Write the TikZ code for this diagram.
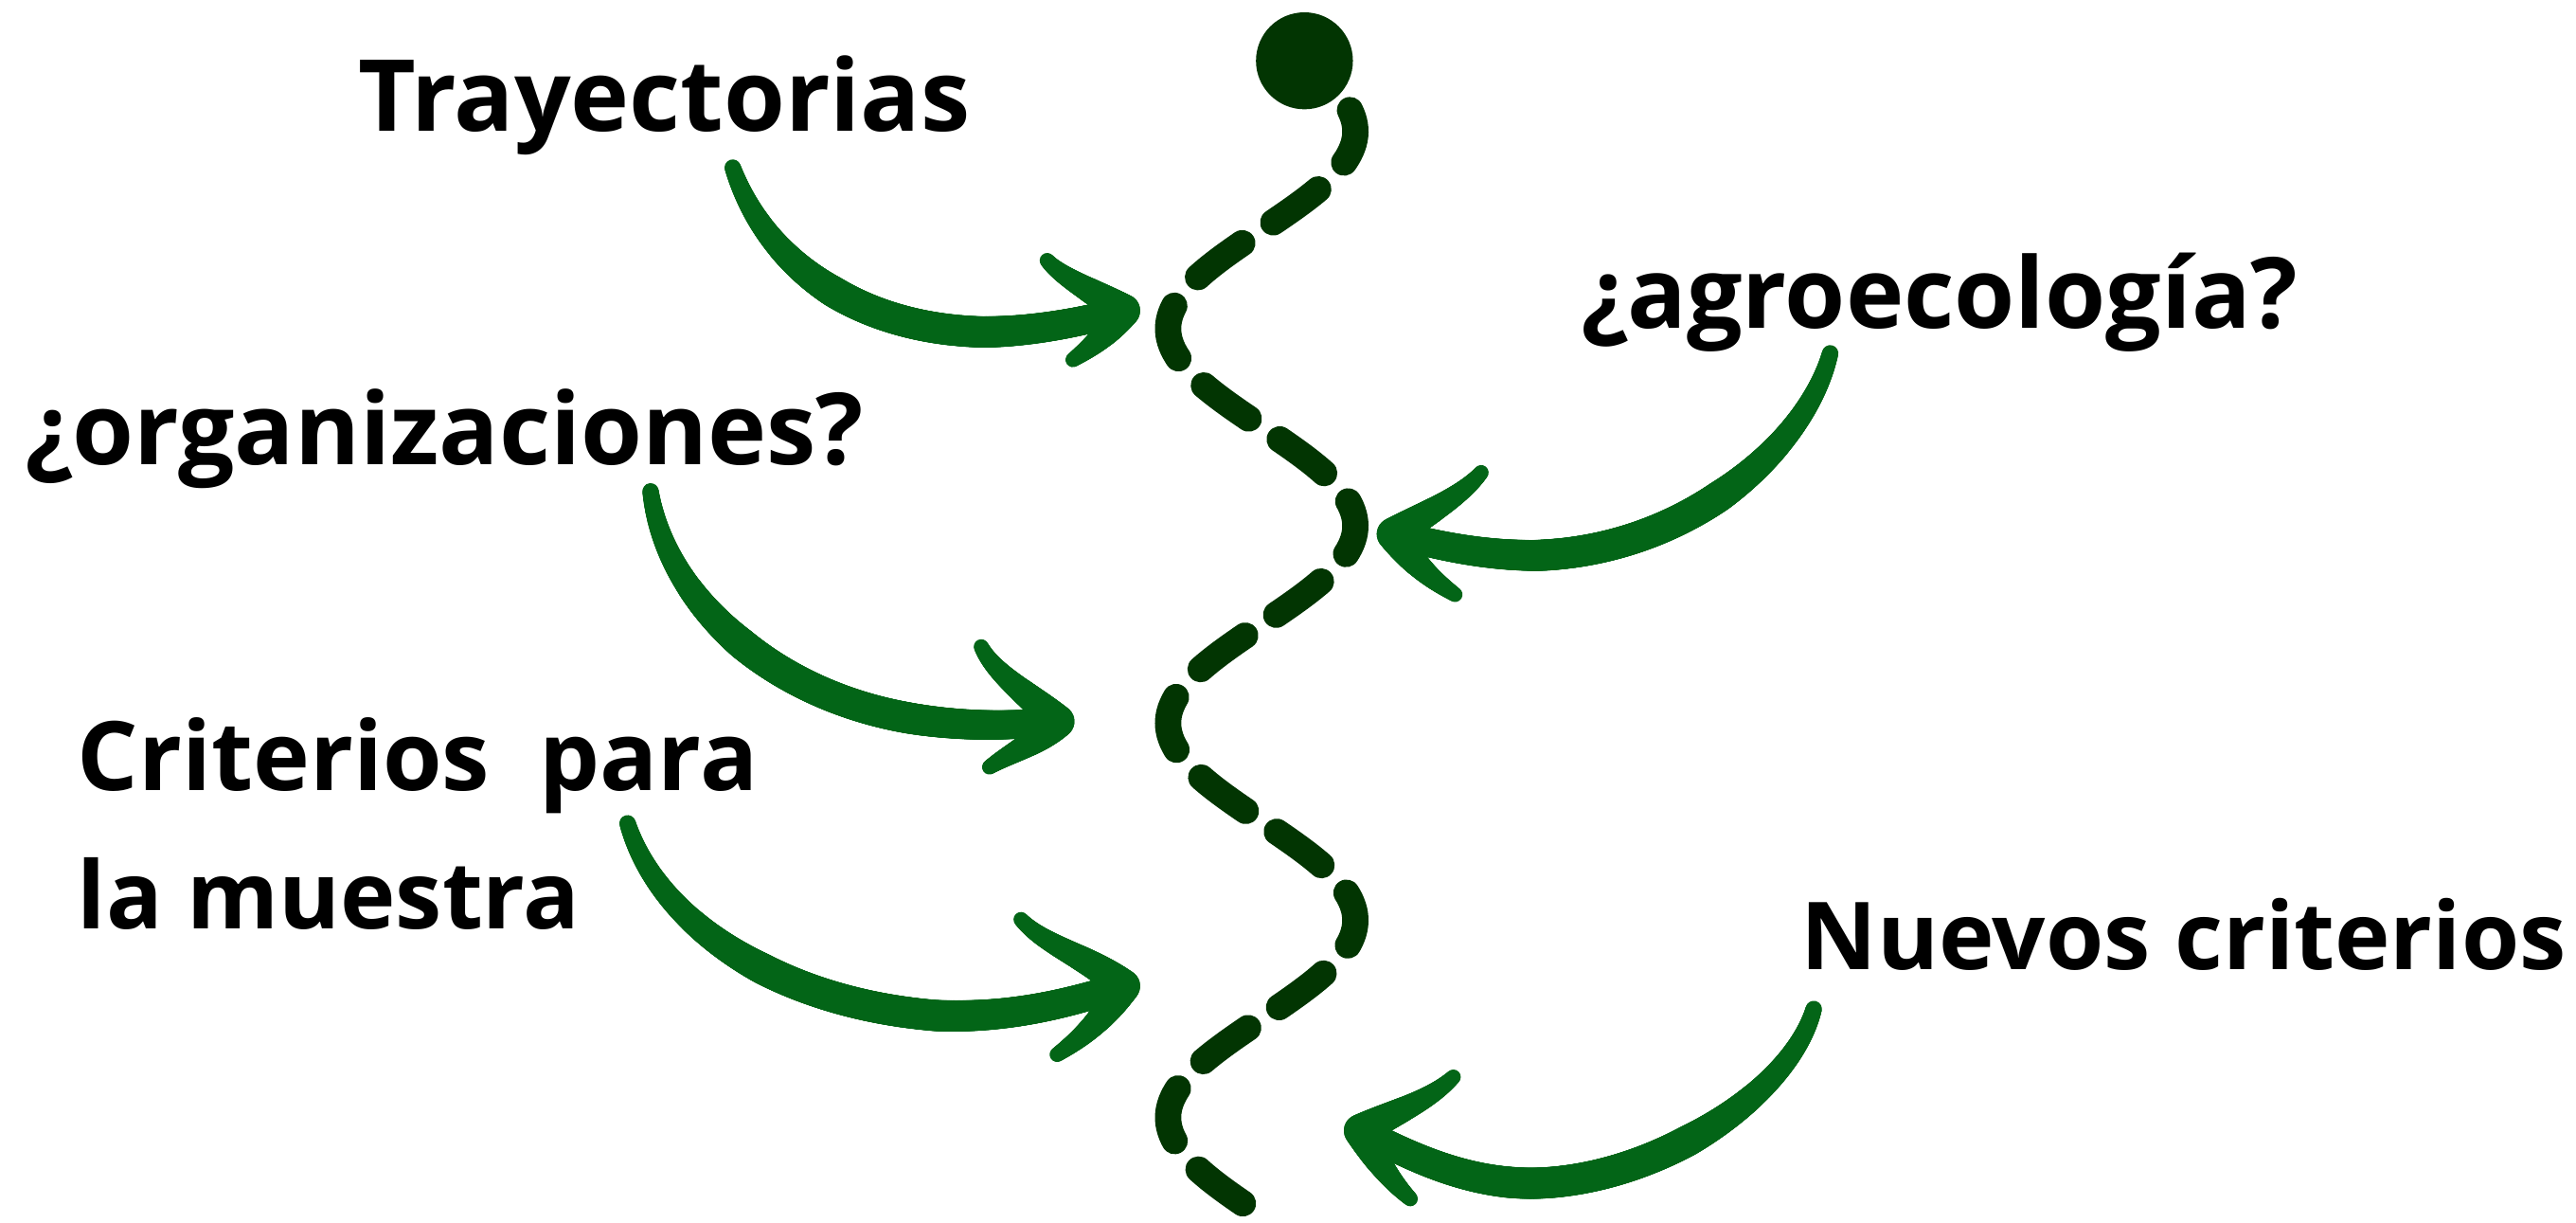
\documentclass[tikz,border=0pt]{standalone}
\usepackage{fontspec}
\setmainfont{Open Sans}
\usetikzlibrary{decorations.markings}
\definecolor{arrowgreen}{RGB}{3,101,23}
\definecolor{trailgreen}{RGB}{2,53,2}
\tikzset{
  label/.style={inner sep=0pt, anchor=base west, font=\fontsize{#1}{70}\selectfont\bfseries, text=black},
  label/.default=58,
  trail/.style={draw=trailgreen, line width=16pt, line cap=round, dash pattern=on 34pt off 22.7pt},
  shaftbrush/.style={decoration={markings, mark=between positions 0 and 1 step 0.7pt with {
      \pgfmathsetmacro\pp{\pgfkeysvalueof{/pgf/decoration/mark info/distance from start}/\pgfdecoratedpathlength}
      \pgfmathsetmacro\rr{0.5*(10+9*min(1,\pp/0.35)-2*max(0,(\pp-0.7)/0.3))}
      \fill[arrowgreen] (0,0) circle[radius=\rr pt];}}, decorate},
  barbbrush/.style={decoration={markings, mark=between positions 0 and 1 step 0.7pt with {
      \pgfmathsetmacro\pp{\pgfkeysvalueof{/pgf/decoration/mark info/distance from start}/\pgfdecoratedpathlength}
      \pgfmathsetmacro\rr{0.5*(20-11*\pp)}
      \fill[arrowgreen] (0,0) circle[radius=\rr pt];}}, decorate},
}
\begin{document}
\begin{tikzpicture}[x=1pt,y=-1pt]
\useasboundingbox (0,0) rectangle (1568,744);
% labels
\node[label=60.5] (tray) at (218,80) {Trayectorias};
\node[label=59.8] (agro) at (962,200) {¿agroecología?};
\node[label=60.6] (org) at (15,283) {¿organizaciones?};
\node[label=58.4] (crit1) at (47,481) {Criterios\ \ para};
\node[label=57] (crit2) at (47,565) {la muestra};
\node[label=57.1] (nuevos) at (1096,590) {Nuevos criterios};
% start dot and dashed trail
\node[circle, fill=trailgreen, inner sep=0pt, minimum size=59pt] (start) at (794,37) {};
\draw[trail] plot[domain=67:735, samples=300] ({768+57*cos(1.5*(\x-80))}, \x);
% arrow 1
\coordinate (t1) at (446,102);
\coordinate (h1) at (684,189);
\path[shaftbrush] (t1) .. controls (466,160) and (520,200) .. (598,202) .. controls (630,202) and (662,195) .. (h1);
\path[barbbrush] (h1) .. controls (665,177) and (645,168) .. (637,158);
\path[barbbrush] (h1) .. controls (674,204) and (663,212) .. (653,219);
% arrow 2
\coordinate (t2) at (1114,215);
\coordinate (h2) at (848,325);
\path[shaftbrush] (t2) .. controls (1100,270) and (1030,335) .. (935,338) .. controls (900,338) and (872,331) .. (h2);
\path[barbbrush] (h2) .. controls (867,313) and (890,302) .. (902,287);
\path[barbbrush] (h2) .. controls (860,343) and (872,353) .. (886,362);
% arrow 3
\coordinate (t3) at (396,299);
\coordinate (h3) at (644,439);
\path[shaftbrush] (t3) .. controls (405,365) and (470,425) .. (560,438) .. controls (595,443) and (622,441) .. (h3);
\path[barbbrush] (h3) .. controls (627,423) and (605,410) .. (597,393);
\path[barbbrush] (h3) .. controls (632,452) and (615,458) .. (602,467);
% arrow 4
\coordinate (t4) at (382,501);
\coordinate (h4) at (684,600);
\path[shaftbrush] (t4) .. controls (400,560) and (470,610) .. (570,618) .. controls (620,620) and (657,608) .. (h4);
\path[barbbrush] (h4) .. controls (662,582) and (635,575) .. (621,559);
\path[barbbrush] (h4) .. controls (672,620) and (658,632) .. (643,642);
% arrow 5
\coordinate (t5) at (1104,614);
\coordinate (h5) at (828,688);
\path[shaftbrush] (t5) .. controls (1090,665) and (1010,718) .. (935,720) .. controls (890,721) and (852,700) .. (h5);
\path[barbbrush] (h5) .. controls (848,677) and (870,670) .. (885,655);
\path[barbbrush] (h5) .. controls (838,707) and (848,720) .. (859,730);
\end{tikzpicture}
\end{document}
